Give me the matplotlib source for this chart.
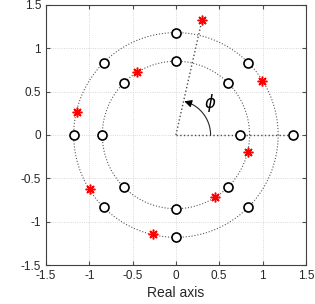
import numpy as np
import matplotlib.pyplot as plt

plt.rcParams['font.family'] = ['Liberation Sans', 'DejaVu Sans']

# ring radii
r_inner = 0.85
r_outer = 1.18

# open circle markers (x, y)
circ_x = [0, -0.6, -0.85, -0.6, 0, 0.6, 0.6, 0.74,
          0, -0.83, -1.18, -0.83, 0, 0.83, 0.83, 1.35]
circ_y = [0.85, 0.6, 0, -0.6, -0.85, -0.6, 0.6, 0,
          1.18, 0.83, 0, -0.83, -1.18, -0.83, 0.83, 0]

# red star markers (x, y)
star_x = [0.30, 0.99, 0.83, 0.45, -0.27, -0.99, -1.14, -0.45]
star_y = [1.32, 0.62, -0.20, -0.72, -1.14, -0.62, 0.26, 0.73]

fig = plt.figure(figsize=(3.15, 3.04), dpi=100)
ax = fig.add_axes([0.146, 0.128, 0.825, 0.856])

t = np.linspace(0, 2 * np.pi, 400)
for r in [r_inner, r_outer]:
    ax.plot(r * np.cos(t), r * np.sin(t), ':', color='0.35', lw=0.8)

# reference lines from origin
ax.plot([0, circ_x[-1]], [0, circ_y[-1]], ':', color='0.3', lw=1.0)
ax.plot([0, star_x[0]], [0, star_y[0]], ':', color='0.3', lw=1.0)

# angle arc with arrow
phi = np.arctan2(star_y[0], star_x[0])
a = np.linspace(0, phi - 0.12, 50)
ra = 0.4
ax.plot(ra * np.cos(a), ra * np.sin(a), color='0.15', lw=0.8)
ax.annotate('', xy=(ra * np.cos(phi - 0.02), ra * np.sin(phi - 0.02)),
            xytext=(ra * np.cos(phi - 0.16), ra * np.sin(phi - 0.16)),
            arrowprops=dict(arrowstyle='-|>', color='black', lw=0.8,
                            mutation_scale=11))
ax.text(0.4, 0.37, r'$\phi$', fontsize=12, ha='center', va='center')

ax.plot(circ_x, circ_y, 'o', ms=6.5, mfc='white', mec='black', mew=1.2,
        ls='none')
ax.plot(star_x, star_y, marker=(8, 2, 0), ms=7, color='red', mew=1.1,
        ls='none')

ax.set_xlim(-1.5, 1.5)
ax.set_ylim(-1.5, 1.5)
ax.set_xticks([-1.5, -1, -0.5, 0, 0.5, 1, 1.5])
ax.set_yticks([-1.5, -1, -0.5, 0, 0.5, 1, 1.5])
ax.set_xticklabels(['-1.5', '-1', '-0.5', '0', '0.5', '1', '1.5'])
ax.set_yticklabels(['-1.5', '-1', '-0.5', '0', '0.5', '1', '1.5'])
ax.grid(True, ls=':', color='0.8', lw=0.6)
ax.tick_params(labelsize=8.5, direction='in', length=3, color='0.3',
               top=True, right=True, labelcolor='0.15')
for s in ax.spines.values():
    s.set_color('0.25')
    s.set_linewidth(0.8)
ax.set_xlabel('Real axis', fontsize=10, color='0.15', labelpad=3)

fig.savefig('out.png', dpi=100)
